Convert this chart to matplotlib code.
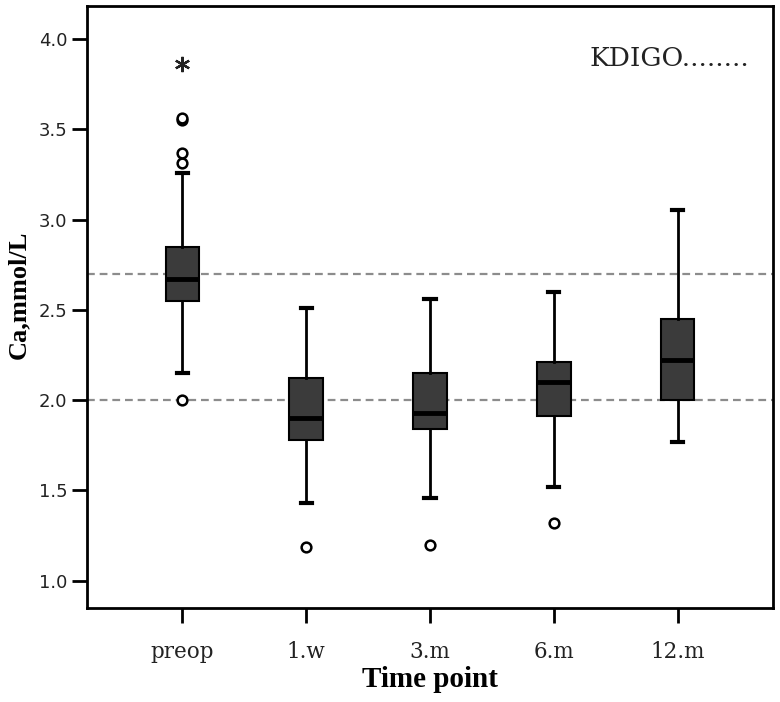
import numpy as np
import matplotlib.pyplot as plt

# Ca levels (mmol/L) at each time point
timepoints = ['preop', '1.w', '3.m', '6.m', '12.m']
q1 = [2.55, 1.78, 1.84, 1.91, 2.00]
median = [2.67, 1.90, 1.93, 2.10, 2.22]
q3 = [2.85, 2.12, 2.15, 2.21, 2.45]
whislo = [2.15, 1.43, 1.46, 1.52, 1.77]
whishi = [3.26, 2.51, 2.56, 2.60, 3.05]
outliers = [[3.31, 3.37, 3.55, 3.56, 2.00], [1.19], [1.20], [1.32], []]
extremes = [[3.86], [], [], [], []]
ref_lines = [2.7, 2.0]

stats = []
for i, name in enumerate(timepoints):
    stats.append(dict(label=name, q1=q1[i], med=median[i], q3=q3[i],
                      whislo=whislo[i], whishi=whishi[i], fliers=outliers[i]))

fig = plt.figure(figsize=(7.8, 7.02), dpi=100)
ax = fig.add_axes([0.1115, 0.134, 0.8795, 0.857])

for y in ref_lines:
    ax.axhline(y, color='#8c8c8c', lw=1.6, ls=(0, (3.5, 2.2)), zorder=1)

pos = np.arange(len(timepoints))
ax.bxp(stats, positions=pos, widths=0.27, patch_artist=True,
       boxprops=dict(facecolor='#3b3b3b', edgecolor='black', linewidth=1.5),
       medianprops=dict(color='black', linewidth=3.5),
       whiskerprops=dict(color='black', linewidth=2),
       capprops=dict(color='black', linewidth=3),
       capwidths=0.09,
       flierprops=dict(marker='o', markersize=7, markerfacecolor='white',
                       markeredgecolor='black', markeredgewidth=1.8),
       zorder=3)

for i, ext in enumerate(extremes):
    if ext:
        ax.plot([pos[i]] * len(ext), ext, marker=(6, 2, 0), ms=11, mew=1.6,
                color='#222222', ls='none', zorder=4)

ax.set_xlim(-0.77, 4.77)
ax.set_ylim(0.85, 4.18)
ax.set_yticks([1.0, 1.5, 2.0, 2.5, 3.0, 3.5, 4.0])
ax.set_yticklabels(['1.0', '1.5', '2.0', '2.5', '3.0', '3.5', '4.0'],
                   fontsize=13, family='DejaVu Sans', color='#222222')
ax.set_xticks(pos)
ax.set_xticklabels(timepoints, fontsize=15.5, family='DejaVu Serif', color='#222222')
ax.tick_params(axis='both', direction='out', length=11, width=2)
ax.tick_params(axis='x', pad=13)
ax.tick_params(axis='y', pad=3)

for s in ax.spines.values():
    s.set_linewidth(2)

ax.set_xlabel('Time point', fontsize=21, fontweight='bold', family='Liberation Serif', labelpad=2)
ax.set_ylabel('Ca,mmol/L', fontsize=19, fontweight='bold', family='Liberation Serif', labelpad=4)
ax.yaxis.set_label_coords(-0.083, 0.52)

ax.text(0.966, 0.914, 'KDIGO........', transform=ax.transAxes, ha='right', va='center',
        fontsize=19, family='DejaVu Serif', color='#222222')

fig.savefig('out.png', dpi=100, facecolor='white')
